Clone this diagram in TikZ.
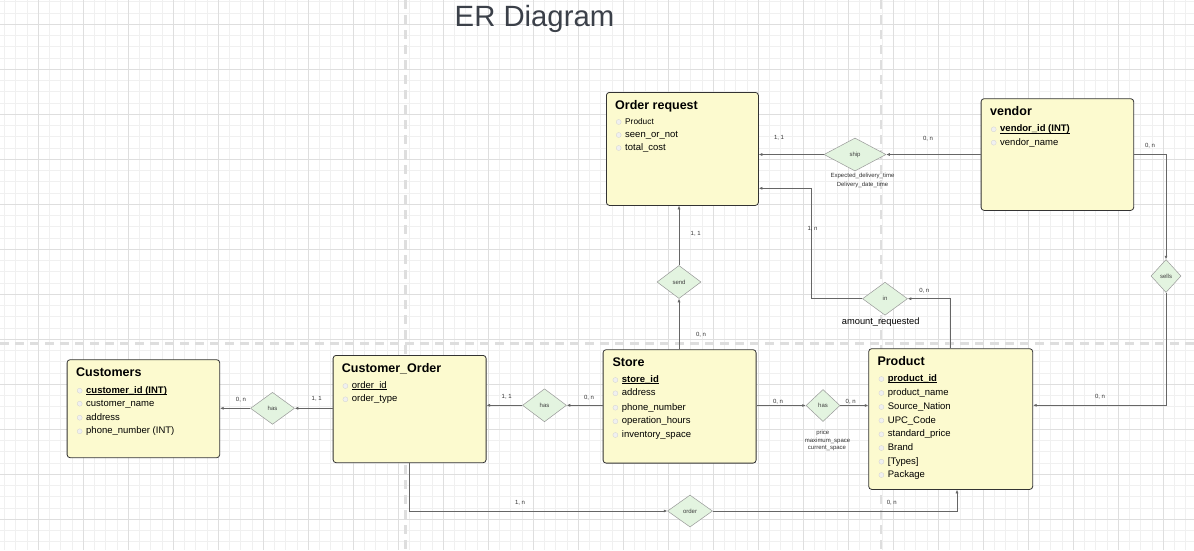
\documentclass[tikz,border=0pt]{standalone}
\usepackage{fontspec}
\setmainfont{Liberation Sans}
\usetikzlibrary{shapes.geometric,arrows.meta}
\definecolor{entfill}{HTML}{FCFACF}
\definecolor{entdraw}{HTML}{333333}
\definecolor{relfill}{HTML}{E3F4E0}
\definecolor{reldraw}{HTML}{999999}
\definecolor{conncol}{HTML}{666666}
\definecolor{gridminor}{HTML}{F0F0F0}
\definecolor{gridmajor}{HTML}{DEDEDE}
\definecolor{titlecol}{HTML}{3B4049}
\newcommand{\erattr}[4]{%
  \node[bulletdot] (#1b) at (#2-6.3,#3) {};
  \node[attr] (#1) at (#2,#3) {#4};}
\newsavebox{\erulbox}
\newcommand{\erul}[1]{\sbox{\erulbox}{#1}\rlap{\rule[-1.4pt]{\wd\erulbox}{0.65pt}}\usebox{\erulbox}}
\begin{document}
\begin{tikzpicture}[x=1pt,y=-1pt,
  entity/.style={draw=entdraw, fill=entfill, rounded corners=3pt, line width=0.8pt, anchor=north west, inner sep=0pt},
  etitle/.style={anchor=base west, font=\bfseries\fontsize{12.5}{14}\selectfont, inner sep=0pt},
  attr/.style={anchor=mid west, font=\fontsize{9.5}{11}\selectfont, inner sep=0pt},
  bulletdot/.style={circle, draw=black!18, fill=black!6, minimum size=5pt, inner sep=0pt, line width=0.3pt},
  rel/.style={diamond, draw=reldraw, fill=relfill, line width=0.5pt, inner sep=0pt, font=\fontsize{6}{7}\selectfont, text=black!75},
  card/.style={font=\fontsize{6}{7}\selectfont, inner sep=0pt, text=black!80},
  conn/.style={draw=conncol, line width=0.6pt, -{Latex[length=3.5pt,width=3pt]}},
  pagebreak/.style={draw=gridmajor, line width=2.5pt, dash pattern=on 9pt off 6pt}]
\useasboundingbox (0,0) rectangle (1194,550);
\fill[white] (0,0) rectangle (1194,550);
% grid
\foreach \i in {0,...,106} {\draw[gridminor, line width=0.8pt] ({4.55+11.25*\i},0) -- ({4.55+11.25*\i},550);}
\foreach \i in {0,...,49} {\draw[gridminor, line width=0.8pt] (0,{1.8+11.25*\i}) -- (1194,{1.8+11.25*\i});}
\foreach \i in {0,...,25} {\draw[gridmajor, line width=0.8pt] ({38.3+45*\i},0) -- ({38.3+45*\i},550);}
\foreach \i in {0,...,11} {\draw[gridmajor, line width=0.8pt] (0,{24.3+45*\i}) -- (1194,{24.3+45*\i});}
% page breaks
\draw[pagebreak] (405.3,0) -- (405.3,550);
\draw[pagebreak] (881,0) -- (881,550);
\draw[pagebreak] (0,343.3) -- (1194,343.3);
% title
\node[font=\fontsize{29.3}{32}\selectfont, text=titlecol] (title) at (534.5,19) {ER Diagram};

% entities
\node[entity, minimum width=152pt, minimum height=113pt] (orq) at (606,92) {};
\node[etitle] (orqt) at (615,109) {Order request};
\erattr{orqa}{625}{122}{\fontsize{8.3}{10}\selectfont Product}
\erattr{orqb}{625}{135}{seen\_or\_not}
\erattr{orqc}{625}{148}{total\_cost}

\node[entity, minimum width=152.6pt, minimum height=111.7pt] (vendor) at (980.7,98.3) {};
\node[etitle] (vendort) at (990,115.4) {vendor};
\erattr{vena}{1000}{129.3}{\erul{\textbf{vendor\_id (INT)}}}
\erattr{venb}{1000}{142.7}{vendor\_name}

\node[entity, minimum width=152.6pt, minimum height=98pt] (cust) at (66.7,359.3) {};
\node[etitle] (custt) at (76,376.5) {Customers};
\erattr{cua}{86}{390.7}{\erul{\textbf{customer\_id (INT)}}}
\erattr{cub}{86}{403.7}{customer\_name}
\erattr{cuc}{86}{417.7}{address}
\erattr{cud}{86}{431.3}{phone\_number (INT)}

\node[entity, minimum width=153pt, minimum height=107.3pt] (co) at (332.7,355) {};
\node[etitle] (cot) at (341.7,372.3) {Customer\_Order};
\erattr{coa}{351.7}{386}{\erul{order\_id}}
\erattr{cob}{351.7}{399.3}{order\_type}

\node[entity, minimum width=153pt, minimum height=113.4pt] (store) at (602.7,349.3) {};
\node[etitle] (storet) at (612.3,366.5) {Store};
\erattr{sta}{621.7}{380}{\erul{\textbf{store\_id}}}
\erattr{stb}{621.7}{393.3}{address}
\erattr{stc}{621.7}{407.7}{phone\_number}
\erattr{std}{621.7}{421.3}{operation\_hours}
\erattr{ste}{621.7}{435}{inventory\_space}

\node[entity, minimum width=164pt, minimum height=140.7pt] (prod) at (868.3,348.3) {};
\node[etitle] (prodt) at (877.3,365.3) {Product};
\erattr{pra}{887.7}{379}{\erul{\textbf{product\_id}}}
\erattr{prb}{887.7}{393}{product\_name}
\erattr{prc}{887.7}{407}{Source\_Nation}
\erattr{prd}{887.7}{420.5}{UPC\_Code}
\erattr{pre}{887.7}{434.3}{standard\_price}
\erattr{prf}{887.7}{448}{Brand}
\erattr{prg}{887.7}{461.7}{[Types]}
\erattr{prh}{887.7}{475}{Package}

% relationships
\node[rel, minimum width=62pt, minimum height=33pt] (ship) at (855,154.5) {ship};
\node[rel, minimum width=45pt, minimum height=33pt] (in) at (885,298.7) {in};
\node[rel, minimum width=44pt, minimum height=33pt] (send) at (679,282) {send};
\node[rel, minimum width=30pt, minimum height=33pt] (sells) at (1166,276) {sells};
\node[rel, minimum width=44pt, minimum height=32pt] (has1) at (272.5,408.3) {has};
\node[rel, minimum width=44pt, minimum height=33pt] (has2) at (544.5,405.3) {has};
\node[rel, minimum width=34pt, minimum height=32pt] (has3) at (823,405.5) {has};
\node[rel, minimum width=45pt, minimum height=32pt] (order) at (690,511) {order};

% helper coordinates
\coordinate (c1) at (811.7,188.3);
\coordinate (c3) at (0,405.3);
\coordinate (c4) at (409.3,0);
\coordinate (c5) at (957,0);

% connectors
\draw[conn] (vendor.west |- ship.east) -- (ship.east);
\draw[conn] (ship.west) -- (orq.east |- ship.west);
\draw[conn] (in.west) -| (c1) -- (orq.east |- c1);
\draw[conn] (prod.north) |- (in.east);
\draw[conn] (send.south |- store.north) -- (send.south);
\draw[conn] (send.north) -- (orq.south -| send.north);
\draw[conn] (vendor.east) -| (sells.north);
\draw[conn] (sells.south) |- (prod.east |- c3);
\draw[conn] (co.west |- has1.east) -- (has1.east);
\draw[conn] (has1.west) -- (cust.east |- has1.west);
\draw[conn] (store.west |- has2.east) -- (has2.east);
\draw[conn] (has2.west) -- (co.east |- has2.west);
\draw[conn] (store.east |- has3.west) -- (has3.west);
\draw[conn] (has3.east) -- (prod.west |- has3.east);
\draw[conn] (co.south -| c4) |- (order.west);
\draw[conn] (order.east) -| (prod.south -| c5);

% cardinalities and attribute labels
\node[card] (l1) at (779,138.3) {1, 1};
\node[card] (l2) at (928,138.3) {0, n};
\node[card] (s1) at (862.5,176.3) {Expected\_delivery\_time};
\node[card] (s2) at (862.5,184.5) {Delivery\_date\_time};
\node[card] (l3) at (812.5,229) {1, n};
\node[card] (l4) at (695.7,234.3) {1, 1};
\node[card] (l5) at (701,334.3) {0, n};
\node[card] (l6) at (924.3,291) {0, n};
\node[font=\fontsize{9.3}{11}\selectfont, inner sep=0pt] (amt) at (880.7,322) {amount\_requested};
\node[card] (l7) at (1150,145.7) {0, n};
\node[card] (l8) at (1100,397) {0, n};
\node[card] (l9) at (241,399.3) {0, n};
\node[card] (l10) at (316.7,399.3) {1, 1};
\node[card] (l11) at (506.7,397.3) {1, 1};
\node[card] (l12) at (589,397.3) {0, n};
\node[card] (l13) at (778,401.7) {0, n};
\node[card] (l14) at (850.7,401.7) {0, n};
\node[card] (h1) at (822.8,433.3) {price};
\node[card] (h2) at (827.5,440.5) {maximum\_space};
\node[card] (h3) at (827,447.7) {current\_space};
\node[card] (l15) at (520,503.3) {1, n};
\node[card] (l16) at (891.8,502.3) {0, n};
\end{tikzpicture}
\end{document}
